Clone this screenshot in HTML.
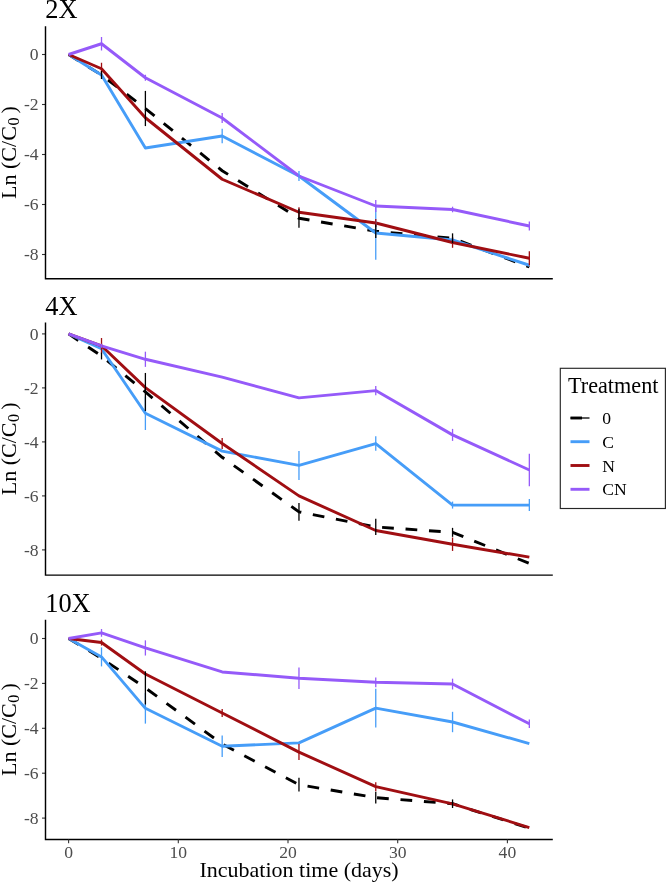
<!DOCTYPE html><html><head><meta charset="utf-8"><style>html,body{margin:0;padding:0;background:#fff;width:666px;height:882px;overflow:hidden}svg{display:block;will-change:transform}</style></head><body>
<svg width="666" height="882" viewBox="0 0 666 882" font-family='"Liberation Serif", serif'>
<rect width="666" height="882" fill="#fff"/>
<text x="45.2" y="18.0" font-size="26.4" fill="#000">2X</text>
<g transform="translate(15.8,198.90) rotate(-90)" fill="#000"><text x="0" y="0" font-size="22">Ln (C/C</text><text x="73.3" y="3.4" font-size="16">0</text><text x="85.5" y="0" font-size="22">)</text></g>
<line x1="42" y1="54.50" x2="45.5" y2="54.50" stroke="#333" stroke-width="1.1"/>
<text x="38.6" y="60.30" font-size="17.6" fill="#4D4D4D" text-anchor="end">0</text>
<line x1="42" y1="104.50" x2="45.5" y2="104.50" stroke="#333" stroke-width="1.1"/>
<text x="38.6" y="110.30" font-size="17.6" fill="#4D4D4D" text-anchor="end">-2</text>
<line x1="42" y1="154.50" x2="45.5" y2="154.50" stroke="#333" stroke-width="1.1"/>
<text x="38.6" y="160.30" font-size="17.6" fill="#4D4D4D" text-anchor="end">-4</text>
<line x1="42" y1="204.50" x2="45.5" y2="204.50" stroke="#333" stroke-width="1.1"/>
<text x="38.6" y="210.30" font-size="17.6" fill="#4D4D4D" text-anchor="end">-6</text>
<line x1="42" y1="254.50" x2="45.5" y2="254.50" stroke="#333" stroke-width="1.1"/>
<text x="38.6" y="260.30" font-size="17.6" fill="#4D4D4D" text-anchor="end">-8</text>
<polyline points="68.60,54.50 101.51,75.00 145.39,108.50 222.18,170.75 298.97,218.25 375.76,231.25 452.55,238.25 529.34,267.00" fill="none" stroke="#000000" stroke-width="2.9" stroke-linejoin="round" stroke-linecap="butt" stroke-dasharray="11.75 11.75"/>
<polyline points="68.60,54.50 101.51,75.00 145.39,148.00 222.18,136.00 298.97,176.00 375.76,233.00 452.55,240.00 529.34,265.25" fill="none" stroke="#469DF8" stroke-width="2.9" stroke-linejoin="round" stroke-linecap="butt"/>
<polyline points="68.60,54.50 101.51,68.75 145.39,117.75 222.18,179.25 298.97,212.25 375.76,223.00 452.55,242.50 529.34,258.25" fill="none" stroke="#A00E12" stroke-width="2.9" stroke-linejoin="round" stroke-linecap="butt"/>
<polyline points="68.60,54.50 101.51,43.75 145.39,77.75 222.18,118.00 298.97,176.00 375.76,206.00 452.55,209.50 529.34,226.00" fill="none" stroke="#955AF9" stroke-width="2.9" stroke-linejoin="round" stroke-linecap="butt"/>
<line x1="222.18" y1="128.80" x2="222.18" y2="143.20" stroke="#469DF8" stroke-width="1.3"/>
<line x1="298.97" y1="171.00" x2="298.97" y2="181.00" stroke="#469DF8" stroke-width="1.3"/>
<line x1="375.76" y1="206.30" x2="375.76" y2="259.70" stroke="#469DF8" stroke-width="1.3"/>
<line x1="101.51" y1="62.75" x2="101.51" y2="74.75" stroke="#A00E12" stroke-width="1.3"/>
<line x1="298.97" y1="207.25" x2="298.97" y2="217.25" stroke="#A00E12" stroke-width="1.3"/>
<line x1="375.76" y1="219.00" x2="375.76" y2="227.00" stroke="#A00E12" stroke-width="1.3"/>
<line x1="452.55" y1="237.20" x2="452.55" y2="247.80" stroke="#A00E12" stroke-width="1.3"/>
<line x1="529.34" y1="251.35" x2="529.34" y2="265.15" stroke="#A00E12" stroke-width="1.3"/>
<line x1="101.51" y1="37.00" x2="101.51" y2="50.50" stroke="#955AF9" stroke-width="1.3"/>
<line x1="145.39" y1="74.75" x2="145.39" y2="80.75" stroke="#955AF9" stroke-width="1.3"/>
<line x1="222.18" y1="113.00" x2="222.18" y2="123.00" stroke="#955AF9" stroke-width="1.3"/>
<line x1="375.76" y1="200.10" x2="375.76" y2="211.90" stroke="#955AF9" stroke-width="1.3"/>
<line x1="452.55" y1="206.70" x2="452.55" y2="212.30" stroke="#955AF9" stroke-width="1.3"/>
<line x1="529.34" y1="221.50" x2="529.34" y2="230.50" stroke="#955AF9" stroke-width="1.3"/>
<line x1="101.51" y1="71.00" x2="101.51" y2="79.00" stroke="#000000" stroke-width="1.3"/>
<line x1="145.39" y1="90.90" x2="145.39" y2="126.10" stroke="#000000" stroke-width="1.3"/>
<line x1="298.97" y1="208.75" x2="298.97" y2="227.75" stroke="#000000" stroke-width="1.3"/>
<line x1="375.76" y1="224.55" x2="375.76" y2="237.95" stroke="#000000" stroke-width="1.3"/>
<line x1="452.55" y1="233.35" x2="452.55" y2="243.15" stroke="#000000" stroke-width="1.3"/>
<polyline points="45.5,26.3 45.5,278.7 552.8,278.7" fill="none" stroke="#000" stroke-width="1.45" stroke-linecap="butt"/>
<text x="45.2" y="315.0" font-size="26.4" fill="#000">4X</text>
<g transform="translate(15.8,495.25) rotate(-90)" fill="#000"><text x="0" y="0" font-size="22">Ln (C/C</text><text x="73.3" y="3.4" font-size="16">0</text><text x="85.5" y="0" font-size="22">)</text></g>
<line x1="42" y1="333.90" x2="45.5" y2="333.90" stroke="#333" stroke-width="1.1"/>
<text x="38.6" y="339.70" font-size="17.6" fill="#4D4D4D" text-anchor="end">0</text>
<line x1="42" y1="387.90" x2="45.5" y2="387.90" stroke="#333" stroke-width="1.1"/>
<text x="38.6" y="393.70" font-size="17.6" fill="#4D4D4D" text-anchor="end">-2</text>
<line x1="42" y1="441.90" x2="45.5" y2="441.90" stroke="#333" stroke-width="1.1"/>
<text x="38.6" y="447.70" font-size="17.6" fill="#4D4D4D" text-anchor="end">-4</text>
<line x1="42" y1="495.90" x2="45.5" y2="495.90" stroke="#333" stroke-width="1.1"/>
<text x="38.6" y="501.70" font-size="17.6" fill="#4D4D4D" text-anchor="end">-6</text>
<line x1="42" y1="549.90" x2="45.5" y2="549.90" stroke="#333" stroke-width="1.1"/>
<text x="38.6" y="555.70" font-size="17.6" fill="#4D4D4D" text-anchor="end">-8</text>
<polyline points="68.60,333.90 101.51,356.04 145.39,391.95 222.18,457.29 298.97,511.83 375.76,526.95 452.55,532.35 529.34,563.40" fill="none" stroke="#000000" stroke-width="2.9" stroke-linejoin="round" stroke-linecap="butt" stroke-dasharray="11.75 11.75"/>
<polyline points="68.60,333.90 101.51,348.75 145.39,413.28 222.18,451.08 298.97,465.39 375.76,443.52 452.55,505.08 529.34,505.08" fill="none" stroke="#469DF8" stroke-width="2.9" stroke-linejoin="round" stroke-linecap="butt"/>
<polyline points="68.60,333.90 101.51,345.78 145.39,387.63 222.18,443.52 298.97,495.90 375.76,530.46 452.55,544.23 529.34,557.19" fill="none" stroke="#A00E12" stroke-width="2.9" stroke-linejoin="round" stroke-linecap="butt"/>
<polyline points="68.60,333.90 101.51,345.78 145.39,359.28 222.18,377.10 298.97,397.89 375.76,390.60 452.55,434.88 529.34,469.98" fill="none" stroke="#955AF9" stroke-width="2.9" stroke-linejoin="round" stroke-linecap="butt"/>
<line x1="145.39" y1="396.58" x2="145.39" y2="429.98" stroke="#469DF8" stroke-width="1.3"/>
<line x1="298.97" y1="450.89" x2="298.97" y2="479.89" stroke="#469DF8" stroke-width="1.3"/>
<line x1="375.76" y1="436.17" x2="375.76" y2="450.87" stroke="#469DF8" stroke-width="1.3"/>
<line x1="452.55" y1="501.58" x2="452.55" y2="508.58" stroke="#469DF8" stroke-width="1.3"/>
<line x1="529.34" y1="499.08" x2="529.34" y2="511.08" stroke="#469DF8" stroke-width="1.3"/>
<line x1="101.51" y1="338.03" x2="101.51" y2="353.53" stroke="#A00E12" stroke-width="1.3"/>
<line x1="222.18" y1="438.12" x2="222.18" y2="448.92" stroke="#A00E12" stroke-width="1.3"/>
<line x1="452.55" y1="537.53" x2="452.55" y2="550.93" stroke="#A00E12" stroke-width="1.3"/>
<line x1="101.51" y1="343.78" x2="101.51" y2="347.78" stroke="#955AF9" stroke-width="1.3"/>
<line x1="145.39" y1="351.68" x2="145.39" y2="366.88" stroke="#955AF9" stroke-width="1.3"/>
<line x1="375.76" y1="385.95" x2="375.76" y2="395.25" stroke="#955AF9" stroke-width="1.3"/>
<line x1="452.55" y1="428.88" x2="452.55" y2="440.88" stroke="#955AF9" stroke-width="1.3"/>
<line x1="529.34" y1="453.73" x2="529.34" y2="486.23" stroke="#955AF9" stroke-width="1.3"/>
<line x1="101.51" y1="352.64" x2="101.51" y2="359.44" stroke="#000000" stroke-width="1.3"/>
<line x1="145.39" y1="372.95" x2="145.39" y2="410.95" stroke="#000000" stroke-width="1.3"/>
<line x1="298.97" y1="503.03" x2="298.97" y2="520.63" stroke="#000000" stroke-width="1.3"/>
<line x1="375.76" y1="518.85" x2="375.76" y2="535.05" stroke="#000000" stroke-width="1.3"/>
<line x1="452.55" y1="527.85" x2="452.55" y2="536.85" stroke="#000000" stroke-width="1.3"/>
<polyline points="45.5,322.6 45.5,575.1 552.8,575.1" fill="none" stroke="#000" stroke-width="1.45" stroke-linecap="butt"/>
<text x="45.2" y="612.3" font-size="26.4" fill="#000">10X</text>
<g transform="translate(15.8,776.00) rotate(-90)" fill="#000"><text x="0" y="0" font-size="22">Ln (C/C</text><text x="73.3" y="3.4" font-size="16">0</text><text x="85.5" y="0" font-size="22">)</text></g>
<line x1="42" y1="638.50" x2="45.5" y2="638.50" stroke="#333" stroke-width="1.1"/>
<text x="38.6" y="644.30" font-size="17.6" fill="#4D4D4D" text-anchor="end">0</text>
<line x1="42" y1="683.40" x2="45.5" y2="683.40" stroke="#333" stroke-width="1.1"/>
<text x="38.6" y="689.20" font-size="17.6" fill="#4D4D4D" text-anchor="end">-2</text>
<line x1="42" y1="728.30" x2="45.5" y2="728.30" stroke="#333" stroke-width="1.1"/>
<text x="38.6" y="734.10" font-size="17.6" fill="#4D4D4D" text-anchor="end">-4</text>
<line x1="42" y1="773.20" x2="45.5" y2="773.20" stroke="#333" stroke-width="1.1"/>
<text x="38.6" y="779.00" font-size="17.6" fill="#4D4D4D" text-anchor="end">-6</text>
<line x1="42" y1="818.10" x2="45.5" y2="818.10" stroke="#333" stroke-width="1.1"/>
<text x="38.6" y="823.90" font-size="17.6" fill="#4D4D4D" text-anchor="end">-8</text>
<polyline points="68.60,638.50 101.51,658.26 145.39,687.89 222.18,744.01 298.97,784.65 375.76,797.67 452.55,803.73 529.34,828.20" fill="none" stroke="#000000" stroke-width="2.9" stroke-linejoin="round" stroke-linecap="butt" stroke-dasharray="11.75 11.75"/>
<polyline points="68.60,638.50 101.51,656.91 145.39,708.32 222.18,746.26 298.97,742.89 375.76,708.10 452.55,722.01 529.34,743.57" fill="none" stroke="#469DF8" stroke-width="2.9" stroke-linejoin="round" stroke-linecap="butt"/>
<polyline points="68.60,638.50 101.51,642.54 145.39,673.97 222.18,713.03 298.97,752.10 375.76,786.67 452.55,803.96 529.34,827.53" fill="none" stroke="#A00E12" stroke-width="2.9" stroke-linejoin="round" stroke-linecap="butt"/>
<polyline points="68.60,638.50 101.51,632.89 145.39,647.93 222.18,671.95 298.97,678.24 375.76,682.28 452.55,684.07 529.34,723.81" fill="none" stroke="#955AF9" stroke-width="2.9" stroke-linejoin="round" stroke-linecap="butt"/>
<line x1="101.51" y1="647.41" x2="101.51" y2="666.41" stroke="#469DF8" stroke-width="1.3"/>
<line x1="145.39" y1="693.02" x2="145.39" y2="723.62" stroke="#469DF8" stroke-width="1.3"/>
<line x1="222.18" y1="735.46" x2="222.18" y2="757.06" stroke="#469DF8" stroke-width="1.3"/>
<line x1="375.76" y1="688.70" x2="375.76" y2="727.50" stroke="#469DF8" stroke-width="1.3"/>
<line x1="452.55" y1="711.81" x2="452.55" y2="732.21" stroke="#469DF8" stroke-width="1.3"/>
<line x1="101.51" y1="639.54" x2="101.51" y2="645.54" stroke="#A00E12" stroke-width="1.3"/>
<line x1="222.18" y1="709.03" x2="222.18" y2="717.03" stroke="#A00E12" stroke-width="1.3"/>
<line x1="298.97" y1="744.10" x2="298.97" y2="760.10" stroke="#A00E12" stroke-width="1.3"/>
<line x1="375.76" y1="782.17" x2="375.76" y2="791.17" stroke="#A00E12" stroke-width="1.3"/>
<line x1="101.51" y1="629.04" x2="101.51" y2="636.74" stroke="#955AF9" stroke-width="1.3"/>
<line x1="145.39" y1="640.33" x2="145.39" y2="655.53" stroke="#955AF9" stroke-width="1.3"/>
<line x1="298.97" y1="667.44" x2="298.97" y2="689.04" stroke="#955AF9" stroke-width="1.3"/>
<line x1="375.76" y1="677.38" x2="375.76" y2="687.18" stroke="#955AF9" stroke-width="1.3"/>
<line x1="452.55" y1="678.67" x2="452.55" y2="689.47" stroke="#955AF9" stroke-width="1.3"/>
<line x1="529.34" y1="719.61" x2="529.34" y2="728.01" stroke="#955AF9" stroke-width="1.3"/>
<line x1="145.39" y1="671.29" x2="145.39" y2="704.49" stroke="#000000" stroke-width="1.3"/>
<line x1="298.97" y1="777.85" x2="298.97" y2="791.45" stroke="#000000" stroke-width="1.3"/>
<line x1="375.76" y1="791.87" x2="375.76" y2="803.47" stroke="#000000" stroke-width="1.3"/>
<line x1="452.55" y1="799.43" x2="452.55" y2="808.03" stroke="#000000" stroke-width="1.3"/>
<polyline points="45.5,619.8 45.5,839.4 552.8,839.4" fill="none" stroke="#000" stroke-width="1.45" stroke-linecap="butt"/>
<line x1="68.60" y1="839.4" x2="68.60" y2="843.3" stroke="#333" stroke-width="1.1"/>
<text x="68.60" y="858.2" font-size="17.6" fill="#4D4D4D" text-anchor="middle">0</text>
<line x1="178.30" y1="839.4" x2="178.30" y2="843.3" stroke="#333" stroke-width="1.1"/>
<text x="178.30" y="858.2" font-size="17.6" fill="#4D4D4D" text-anchor="middle">10</text>
<line x1="288.00" y1="839.4" x2="288.00" y2="843.3" stroke="#333" stroke-width="1.1"/>
<text x="288.00" y="858.2" font-size="17.6" fill="#4D4D4D" text-anchor="middle">20</text>
<line x1="397.70" y1="839.4" x2="397.70" y2="843.3" stroke="#333" stroke-width="1.1"/>
<text x="397.70" y="858.2" font-size="17.6" fill="#4D4D4D" text-anchor="middle">30</text>
<line x1="507.40" y1="839.4" x2="507.40" y2="843.3" stroke="#333" stroke-width="1.1"/>
<text x="507.40" y="858.2" font-size="17.6" fill="#4D4D4D" text-anchor="middle">40</text>
<text x="299.1" y="877" font-size="22" fill="#000" text-anchor="middle">Incubation time (days)</text>
<rect x="560.3" y="368.3" width="105.1" height="140.2" fill="#fff" stroke="#262626" stroke-width="1.15"/>
<text x="568.0" y="392.7" font-size="22.2" fill="#000">Treatment</text>
<line x1="570.5" y1="418.0" x2="589.5" y2="418.0" stroke="#000" stroke-width="1.3"/>
<line x1="570.5" y1="418.0" x2="582" y2="418.0" stroke="#000" stroke-width="2.9"/>
<text x="602.2" y="424.1" font-size="17.6" fill="#000">0</text>
<line x1="570.5" y1="441.7" x2="589.5" y2="441.7" stroke="#469DF8" stroke-width="2.9"/>
<text x="602.2" y="447.8" font-size="17.6" fill="#000">C</text>
<line x1="570.5" y1="465.5" x2="589.5" y2="465.5" stroke="#A00E12" stroke-width="2.9"/>
<text x="602.2" y="471.6" font-size="17.6" fill="#000">N</text>
<line x1="570.5" y1="489.3" x2="589.5" y2="489.3" stroke="#955AF9" stroke-width="2.9"/>
<text x="602.2" y="495.4" font-size="17.6" fill="#000">CN</text>
</svg></body></html>
